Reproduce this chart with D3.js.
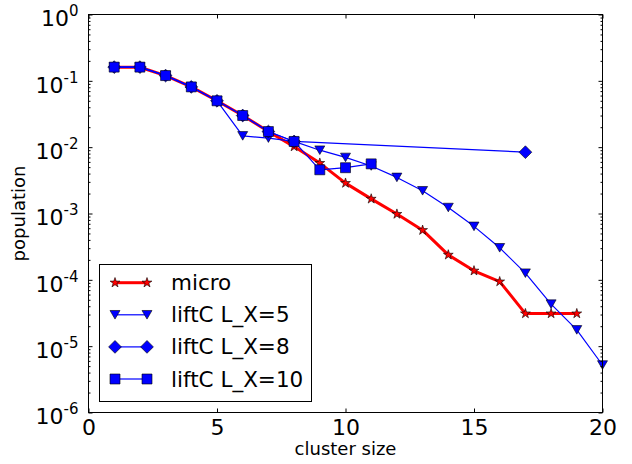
<!DOCTYPE html>
<html>
<head>
<meta charset="utf-8">
<script src="https://cdn.jsdelivr.net/npm/d3@7/dist/d3.min.js"></script>
<style>
  body { margin: 0; background: #fff; }
  svg { display: block; font-family: "DejaVu Sans", sans-serif; }
</style>
</head>
<body>
<div id="chart"></div>
<script>
// data
const microX = [1, 2, 3, 4, 5, 6, 7, 8, 9, 10, 11, 12, 13, 14, 15, 16, 17, 18, 19];
const microY = [0.160, 0.160, 0.120, 0.081, 0.050, 0.030, 0.0172, 0.0102, 0.00575, 0.00287, 0.00166,
  0.00098, 0.00056, 0.000238, 0.000137, 0.000094, 0.000031, 0.000031, 0.000031];

const lx5X = [1, 2, 3, 4, 5, 6, 7, 8, 9, 10, 11, 12, 13, 14, 15, 16, 17, 18, 19, 20];
const lx5Y = [0.161, 0.161, 0.120, 0.081, 0.050, 0.0148, 0.0137, 0.0122, 0.0090, 0.0070, 0.0052,
  0.0035, 0.0022, 0.00123, 0.00064, 0.000304, 0.000126, 0.000043, 0.0000176, 0.0000052];

const lx8X = [1, 2, 3, 4, 5, 6, 7, 8, 17];
const lx8Y = [0.161, 0.161, 0.120, 0.081, 0.050, 0.030, 0.0172, 0.0122, 0.0084];

const lx10X = [1, 2, 3, 4, 5, 6, 7, 8, 9, 10, 11];
const lx10Y = [0.161, 0.161, 0.120, 0.081, 0.050, 0.030, 0.0172, 0.0122, 0.00456, 0.0049, 0.0056];

const seriesNames = ['micro', 'liftC L_X=5', 'liftC L_X=8', 'liftC L_X=10'];
const xTicks = [0, 5, 10, 15, 20];
const yTicks = [1e-6, 1e-5, 1e-4, 1e-3, 1e-2, 1e-1, 1];
const yExp = ['-6', '-5', '-4', '-3', '-2', '-1', '0'];

const width = 632, height = 464;
const box = { left: 88.5, right: 602.5, top: 14.5, bottom: 412.5 };

const svg = d3.select('#chart').append('svg')
  .attr('width', width)
  .attr('height', height);

const x = d3.scaleLinear().domain([0, 20]).range([box.left, box.right]);
const y = d3.scaleLog().domain([1e-6, 1]).range([box.bottom, box.top]);

// marker shapes, matplotlib-like
function markerPath(type) {
  if (type === 'star') return d3.symbol(d3.symbolStar, 30)();
  if (type === 'tri') return 'M-5,-4.3L5,-4.3L0,4.3Z';
  if (type === 'diamond') return 'M0,-6.4L6.4,0L0,6.4L-6.4,0Z';
  return 'M-5,-5L5,-5L5,5L-5,5Z';
}

const series = [
  { name: seriesNames[0], xs: microX, ys: microY, color: '#ff0000', lw: 3, marker: 'star' },
  { name: seriesNames[1], xs: lx5X, ys: lx5Y, color: '#0000ff', lw: 1.2, marker: 'tri' },
  { name: seriesNames[2], xs: lx8X, ys: lx8Y, color: '#0000ff', lw: 1.2, marker: 'diamond' },
  { name: seriesNames[3], xs: lx10X, ys: lx10Y, color: '#0000ff', lw: 1.2, marker: 'square' }
];

const line = d3.line().x(d => x(d[0])).y(d => y(d[1]));

const plot = svg.append('g');
series.forEach(s => {
  const pts = s.xs.map((v, i) => [v, s.ys[i]]);
  plot.append('path')
    .datum(pts)
    .attr('d', line)
    .attr('fill', 'none')
    .attr('stroke', s.color)
    .attr('stroke-width', s.lw)
    .attr('stroke-linejoin', 'round');
  plot.selectAll(null)
    .data(pts)
    .join('path')
    .attr('d', markerPath(s.marker))
    .attr('transform', d => `translate(${x(d[0])},${y(d[1])})`)
    .attr('fill', s.color)
    .attr('stroke', '#000')
    .attr('stroke-width', 0.6);
});

// axes: ticks pointing inward on all four sides
const minor = y.ticks().filter(v => !yTicks.includes(v));

function cleanAxis(g) {
  g.select('.domain').remove();
  g.selectAll('line').attr('stroke', '#000');
}

svg.append('g')
  .attr('transform', `translate(0,${box.bottom})`)
  .call(d3.axisBottom(x).tickValues(xTicks).tickSizeInner(-4).tickSizeOuter(0).tickPadding(7))
  .call(cleanAxis)
  .selectAll('text')
  .attr('font-size', 22)
  .attr('font-family', 'DejaVu Sans')
  .attr('fill', '#000');

svg.append('g')
  .attr('transform', `translate(0,${box.top})`)
  .call(d3.axisTop(x).tickValues(xTicks).tickSizeInner(-4).tickSizeOuter(0).tickFormat(''))
  .call(cleanAxis);

const yLeft = svg.append('g')
  .attr('transform', `translate(${box.left},0)`)
  .call(d3.axisLeft(y).tickValues(yTicks).tickSizeInner(-4).tickSizeOuter(0).tickPadding(10))
  .call(cleanAxis);

yLeft.selectAll('text')
  .attr('font-size', 22)
  .attr('font-family', 'DejaVu Sans')
  .attr('fill', '#000')
  .attr('dy', '0.51em')
  .text('10')
  .each(function (d, i) {
    d3.select(this).append('tspan')
      .attr('dy', -10)
      .attr('font-size', 15)
      .text(yExp[i]);
  });

svg.append('g')
  .attr('transform', `translate(${box.left},0)`)
  .call(d3.axisLeft(y).tickValues(minor).tickSizeInner(-2).tickSizeOuter(0).tickFormat(''))
  .call(cleanAxis);

svg.append('g')
  .attr('transform', `translate(${box.right},0)`)
  .call(d3.axisRight(y).tickValues(yTicks).tickSizeInner(-4).tickSizeOuter(0).tickFormat(''))
  .call(cleanAxis);

svg.append('g')
  .attr('transform', `translate(${box.right},0)`)
  .call(d3.axisRight(y).tickValues(minor).tickSizeInner(-2).tickSizeOuter(0).tickFormat(''))
  .call(cleanAxis);

// frame
svg.append('rect')
  .attr('x', box.left)
  .attr('y', box.top)
  .attr('width', box.right - box.left)
  .attr('height', box.bottom - box.top)
  .attr('fill', 'none')
  .attr('stroke', '#000')
  .attr('stroke-width', 1);

// axis labels
svg.append('text')
  .attr('x', (box.left + box.right) / 2)
  .attr('y', 455)
  .attr('text-anchor', 'middle')
  .attr('font-size', 18)
  .text('cluster size');

svg.append('text')
  .attr('transform', `translate(25,${(box.top + box.bottom) / 2}) rotate(-90)`)
  .attr('text-anchor', 'middle')
  .attr('font-size', 18)
  .text('population');

// legend
const legend = svg.append('g');
legend.append('rect')
  .attr('x', 99.5)
  .attr('y', 264.5)
  .attr('width', 212)
  .attr('height', 137)
  .attr('fill', '#fff')
  .attr('stroke', '#000')
  .attr('stroke-width', 1);

series.forEach((s, i) => {
  const cy = 282.7 + i * 32.1;
  legend.append('line')
    .attr('x1', 115).attr('x2', 147)
    .attr('y1', cy).attr('y2', cy)
    .attr('stroke', s.color)
    .attr('stroke-width', s.lw);
  [115, 147].forEach(px => {
    legend.append('path')
      .attr('d', markerPath(s.marker))
      .attr('transform', `translate(${px},${cy})`)
      .attr('fill', s.color)
      .attr('stroke', '#000')
      .attr('stroke-width', 0.6);
  });
  legend.append('text')
    .attr('x', 171)
    .attr('y', cy + 7.5)
    .attr('font-size', 21.5)
    .text(s.name);
});
</script>
</body>
</html>
